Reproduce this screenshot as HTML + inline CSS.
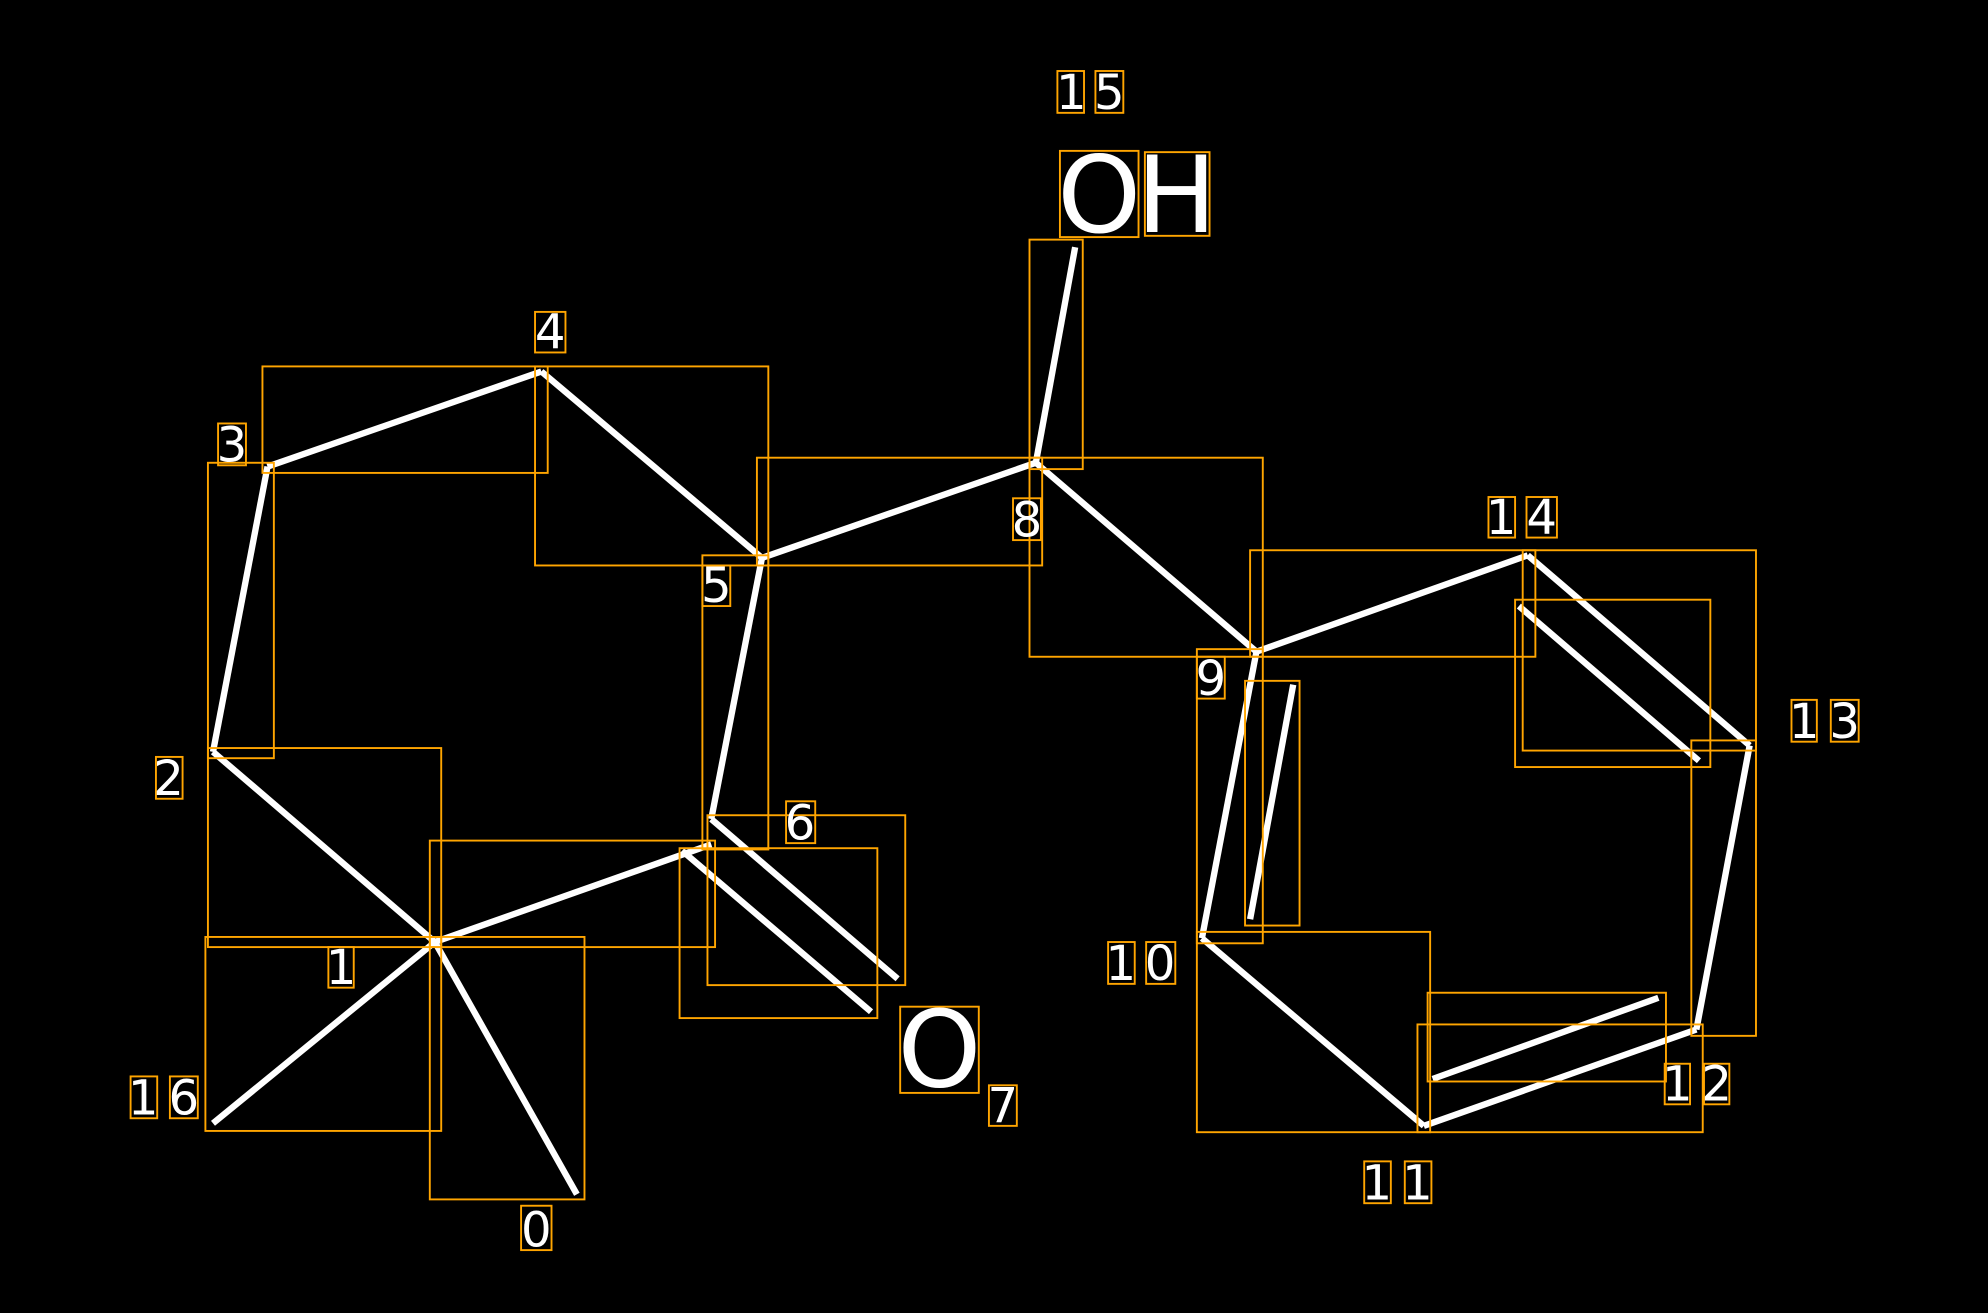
<!DOCTYPE html>
<html><head><meta charset="utf-8"><style>html,body{margin:0;padding:0;background:#000}svg{display:block}</style></head><body>
<svg width="1988" height="1313" viewBox="0 0 1568 1035.6" preserveAspectRatio="none" xmlns="http://www.w3.org/2000/svg">
<rect x="0" y="0" width="1568" height="1036" fill="#000"/>
<g stroke="#fff" stroke-width="5" stroke-linecap="butt">
<line x1="455" y1="942" x2="343" y2="743"/>
<line x1="343" y1="743" x2="168" y2="593"/>
<line x1="168" y1="593" x2="211" y2="368"/>
<line x1="211" y1="368" x2="427" y2="293"/>
<line x1="427" y1="293" x2="601" y2="440"/>
<line x1="601" y1="440" x2="561" y2="646"/>
<line x1="601" y1="440" x2="817" y2="365"/>
<line x1="817" y1="365" x2="848" y2="195"/>
<line x1="817" y1="365" x2="991" y2="514"/>
<line x1="991" y1="514" x2="1205" y2="438"/>
<line x1="1205" y1="438" x2="1380" y2="588"/>
<line x1="1198" y1="478" x2="1340" y2="600"/>
<line x1="1380" y1="588" x2="1338" y2="812"/>
<line x1="1338" y1="812" x2="1123" y2="888"/>
<line x1="1130" y1="851" x2="1308" y2="787"/>
<line x1="1123" y1="888" x2="948" y2="740"/>
<line x1="948" y1="740" x2="991" y2="514"/>
<line x1="1020" y1="540" x2="986" y2="725"/>
<line x1="343" y1="743" x2="561" y2="666"/>
<line x1="561" y1="646" x2="708" y2="772"/>
<line x1="538" y1="671" x2="687" y2="798"/>
<line x1="343" y1="743" x2="168" y2="886"/>
</g>
<g fill="none" stroke="#ffa500" stroke-width="1.5">
<rect x="207" y="289" width="225" height="84"/>
<rect x="422" y="289" width="184" height="157"/>
<rect x="164" y="365" width="52" height="233"/>
<rect x="597" y="361" width="225" height="85"/>
<rect x="554" y="438" width="52" height="232"/>
<rect x="812" y="189" width="42" height="181"/>
<rect x="812" y="361" width="184" height="157"/>
<rect x="986" y="434" width="225" height="84"/>
<rect x="1201" y="434" width="184" height="158"/>
<rect x="1195" y="473" width="154" height="132"/>
<rect x="944" y="512" width="52" height="232"/>
<rect x="982" y="537" width="43" height="193"/>
<rect x="1334" y="584" width="51" height="233"/>
<rect x="944" y="735" width="184" height="158"/>
<rect x="1118" y="808" width="225" height="85"/>
<rect x="1126" y="783" width="188" height="70"/>
<rect x="164" y="590" width="184" height="157"/>
<rect x="339" y="663" width="225" height="84"/>
<rect x="558" y="643" width="156" height="134"/>
<rect x="536" y="669" width="156" height="134"/>
<rect x="162" y="739" width="186" height="153"/>
<rect x="339" y="739" width="122" height="207"/>
<rect x="411" y="951" width="24" height="35"/>
<rect x="259" y="747" width="20" height="32"/>
<rect x="123" y="597" width="21" height="33"/>
<rect x="172" y="334" width="22" height="33"/>
<rect x="422" y="246" width="24" height="32"/>
<rect x="554" y="446" width="22" height="32"/>
<rect x="620" y="632" width="23" height="33"/>
<rect x="710" y="794" width="62" height="68"/>
<rect x="780" y="856" width="22" height="32"/>
<rect x="799" y="393" width="22" height="33"/>
<rect x="836" y="119" width="62" height="68"/>
<rect x="903" y="120" width="51" height="66"/>
<rect x="834" y="56" width="21" height="33"/>
<rect x="864" y="56" width="22" height="33"/>
<rect x="944" y="518" width="22" height="33"/>
<rect x="874" y="743" width="21" height="33"/>
<rect x="904" y="743" width="23" height="33"/>
<rect x="1076" y="916" width="21" height="33"/>
<rect x="1108" y="916" width="21" height="33"/>
<rect x="1313" y="839" width="20" height="32"/>
<rect x="1344" y="839" width="20" height="32"/>
<rect x="1413" y="552" width="20" height="33"/>
<rect x="1444" y="552" width="22" height="33"/>
<rect x="1174" y="392" width="21" height="32"/>
<rect x="1204" y="392" width="24" height="32"/>
<rect x="103" y="849" width="21" height="33"/>
<rect x="134" y="849" width="22" height="33"/>
</g>
<g fill="#fff" font-family="'DejaVu Sans','Liberation Sans',sans-serif" font-size="38" text-anchor="middle">
<text x="423" y="983">0</text>
<text x="269" y="776">1</text>
<text x="133" y="627">2</text>
<text x="183" y="364">3</text>
<text x="434" y="275">4</text>
<text x="565" y="475">5</text>
<text x="631" y="662">6</text>
<text x="791" y="885">7</text>
<text x="810" y="423">8</text>
<text x="845" y="86">1</text>
<text x="875" y="86">5</text>
<text x="955" y="548">9</text>
<text x="884" y="773">1</text>
<text x="915" y="773">0</text>
<text x="1086" y="946">1</text>
<text x="1118" y="946">1</text>
<text x="1323" y="868">1</text>
<text x="1354" y="868">2</text>
<text x="1423" y="582">1</text>
<text x="1455" y="582">3</text>
<text x="1184" y="421">1</text>
<text x="1216" y="421">4</text>
<text x="113" y="879">1</text>
<text x="145" y="879">6</text>
<text x="741" y="857" font-size="84">O</text>
<text x="867" y="183" font-size="84">O</text>
<text x="928" y="183" font-size="84">H</text>
</g>
</svg>
</body></html>
